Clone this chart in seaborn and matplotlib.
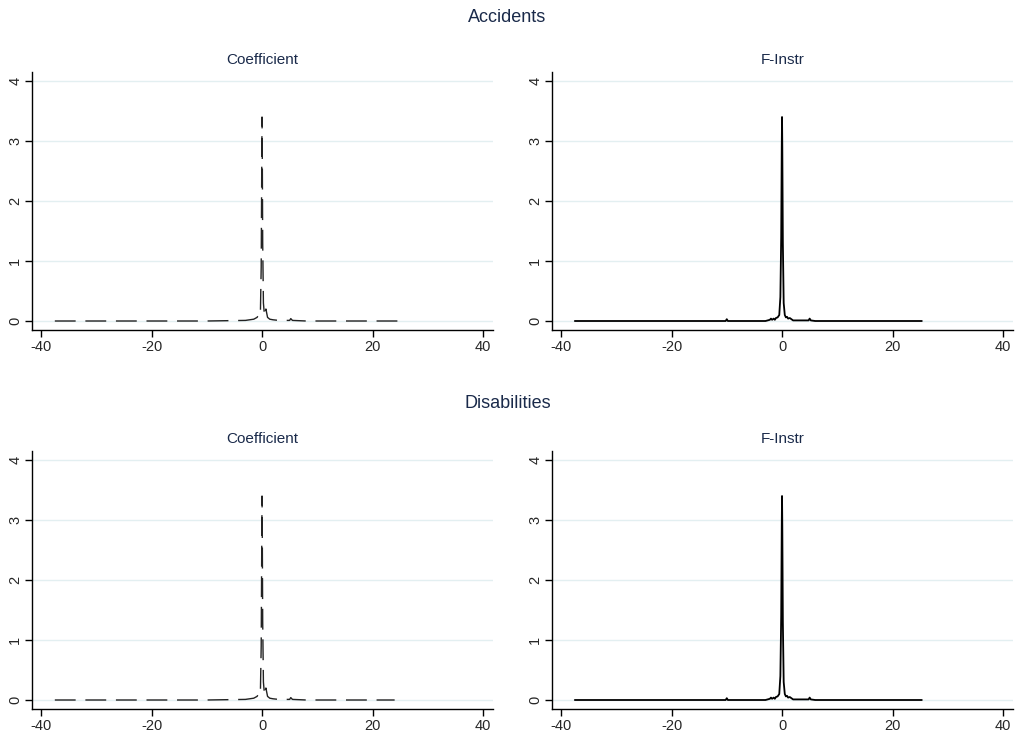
import numpy as np
import pandas as pd
import matplotlib
matplotlib.use("Agg")
import matplotlib.pyplot as plt
import seaborn as sns

# density curves
x_coef_acc = [-37.5, -10.0, -3.0, -1.5, -0.9, -0.5, -0.3, -0.15, -0.05, 0.0, 0.05, 0.12, 0.25, 0.45, 0.7, 1.0, 1.4, 2.0, 3.0, 5.0, 5.2, 5.5, 8.0, 25.0]
y_coef_acc = [0.0, 0.0, 0.01, 0.03, 0.06, 0.12, 0.1, 0.9, 2.6, 3.4, 2.7, 1.3, 0.3, 0.08, 0.2, 0.06, 0.03, 0.02, 0.01, 0.01, 0.04, 0.01, 0.0, 0.0]
x_coef_dis = [-37.5, -10.0, -3.0, -1.5, -0.9, -0.5, -0.3, -0.15, -0.05, 0.0, 0.05, 0.12, 0.25, 0.45, 0.7, 1.0, 1.4, 2.0, 3.0, 5.0, 5.2, 5.5, 8.0, 24.0]
y_coef_dis = [0.0, 0.0, 0.01, 0.03, 0.06, 0.12, 0.1, 0.9, 2.6, 3.4, 2.7, 1.3, 0.3, 0.08, 0.2, 0.06, 0.03, 0.02, 0.01, 0.01, 0.04, 0.01, 0.0, 0.0]

x_finstr = [-37.5, -10.2, -10.0, -9.8, -3.0, -2.2, -2.0, -1.8, -1.5, -1.3, -1.1, -0.8, -0.5, -0.3, -0.15, -0.05, 0.0, 0.05, 0.15, 0.3, 0.5, 0.7, 0.9, 1.1, 1.4, 2.0, 4.8, 5.0, 5.2, 6.0, 25.3]
y_finstr = [0.0, 0.0, 0.03, 0.0, 0.0, 0.02, 0.04, 0.02, 0.04, 0.02, 0.05, 0.06, 0.1, 0.4, 1.4, 2.9, 3.4, 2.9, 1.3, 0.3, 0.1, 0.06, 0.07, 0.04, 0.05, 0.01, 0.01, 0.04, 0.01, 0.0, 0.0]

x_ticks = [-40, -20, 0, 20, 40]
y_ticks = [0, 1, 2, 3, 4]
row_titles = ["Accidents", "Disabilities"]
col_titles = ["Coefficient", "F-Instr"]

sns.set_style("white")
plt.rcParams['font.family'] = ['Liberation Sans', 'DejaVu Sans']

navy = "#1a2a4a"
fig = plt.figure(figsize=(10.15, 7.35), dpi=100)

panels = [
    (x_coef_acc, y_coef_acc, True),
    (x_finstr, y_finstr, False),
    (x_coef_dis, y_coef_dis, True),
    (x_finstr, y_finstr, False),
]
lefts = [32 / 1015, 552 / 1015]
bottoms = [405 / 735, 26 / 735]
w = 461 / 1015
h = 258 / 735

for i, (xs, ys, dashed) in enumerate(panels):
    r, c = divmod(i, 2)
    ax = fig.add_axes([lefts[c], bottoms[r], w, h])
    df = pd.DataFrame({"x": xs, "y": ys})
    if dashed:
        sns.lineplot(data=df, x="x", y="y", ax=ax, color="#222222", lw=1.0,
                     sort=False, estimator=None)
        ax.lines[-1].set_dashes([15, 7])
    else:
        sns.lineplot(data=df, x="x", y="y", ax=ax, color="black", lw=1.3,
                     sort=False, estimator=None)
    ax.set_xlim(-41.63, 41.8)
    ax.set_ylim(-0.15, 4.15)
    ax.set_xticks(x_ticks)
    ax.set_yticks(y_ticks)
    ax.set_xticklabels([str(t) for t in x_ticks], fontsize=10.5)
    ax.set_yticklabels([str(t) for t in y_ticks], fontsize=10.5, rotation=90, va="center")
    for t in y_ticks:
        ax.axhline(t, color="#e3eff1", lw=1, zorder=0)
    ax.set_xlabel("")
    ax.set_ylabel("")
    ax.set_title(col_titles[c], fontsize=11, color=navy, pad=6)
    sns.despine(ax=ax)
    ax.spines["left"].set_color("black")
    ax.spines["bottom"].set_color("black")
    ax.spines["left"].set_linewidth(1)
    ax.spines["bottom"].set_linewidth(1)
    ax.tick_params(axis="both", direction="out", length=5, width=1, color="black", bottom=True, left=True, pad=2)

fig.text(0.5, 1 - 18 / 735, row_titles[0], ha="center", va="center", fontsize=13, color=navy)
fig.text(0.5, 1 - 403 / 735, row_titles[1], ha="center", va="center", fontsize=13, color=navy)

fig.savefig("out.png", dpi=100)
